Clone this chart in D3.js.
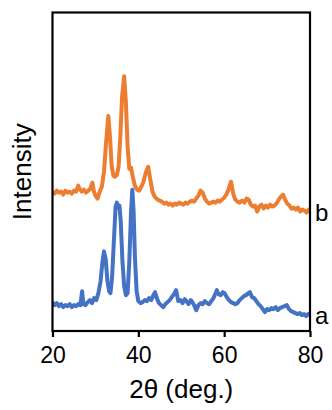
<!DOCTYPE html>
<html><head><meta charset="utf-8">
<script src="https://cdn.jsdelivr.net/npm/d3@7"></script>
<style>body{margin:0;background:#fff;} svg{display:block;}</style>
</head><body>
<svg id="c" width="332" height="410"></svg>
<script>
const xTicks = [20, 40, 60, 80];
const seriesLabels = ["b", "a"];
const seriesColors = ["#ED7D31", "#4472C4"];
const thetaB = [20.0,20.5,21.0,21.5,22.0,22.5,23.0,23.5,24.0,24.5,25.0,25.5,26.0,26.3,26.8,27.3,27.8,28.3,28.8,29.3,29.6,30.0,30.5,31.0,31.5,32.0,32.5,33.0,33.4,33.8,34.2,34.6,35.0,35.4,35.8,36.2,36.7,37.1,37.5,37.9,38.3,38.7,39.2,39.7,40.2,40.7,41.2,41.8,42.3,42.8,43.3,43.8,44.5,45.0,45.5,46.0,46.5,47.0,47.5,48.0,48.5,49.0,49.5,50.0,50.5,51.0,51.5,52.0,52.5,53.0,53.5,54.0,54.5,55.0,55.5,56.0,56.5,57.0,57.5,58.0,58.5,59.0,59.5,60.0,60.5,61.0,61.6,62.1,62.6,63.1,63.6,64.2,64.7,65.2,65.7,66.2,66.7,67.2,67.7,68.2,68.7,69.2,69.7,70.2,70.7,71.2,71.7,72.2,72.7,73.2,73.7,74.2,74.7,75.2,75.7,76.2,76.7,77.2,77.7,78.2,78.7,79.2,79.7,80.0];
const intensityB = [140,138,141,139,140,137,141,139,140,138,141,140,146,143,140,142,139,141,143,149,141,136,133,140,145,160,190,216,195,165,156,155,157,165,195,235,256,230,185,163,164,155,146,142,141,145,150,160,165,152,140,135,132,131,130,128,129,127,128,126,128,127,129,128,127,129,128,130,131,130,133,136,141,139,133,130,128,129,130,129,131,130,132,134,137,142,150,138,132,130,129,131,129,133,132,127,125,126,120,125,127,123,126,124,127,125,126,128,132,135,137,132,128,126,123,124,122,124,120,122,121,119,122,120];
const thetaA = [20.0,20.5,21.0,21.5,22.0,22.5,23.0,23.5,24.0,24.5,25.0,25.5,26.0,26.5,26.9,27.2,27.7,28.2,28.7,29.2,29.7,30.2,30.7,31.2,31.6,32.0,32.4,32.8,33.2,33.5,33.9,34.3,34.7,35.0,35.3,35.6,35.9,36.3,36.7,37.1,37.5,37.9,38.3,38.6,38.9,39.2,39.6,40.0,40.5,41.0,41.5,42.0,42.5,43.0,43.5,43.9,44.3,44.8,45.3,45.8,46.3,46.8,47.3,47.8,48.3,48.8,49.3,49.8,50.3,50.8,51.2,51.7,52.2,52.6,53.0,53.5,54.0,54.5,55.0,55.5,56.0,56.5,57.0,57.5,58.0,58.3,58.7,59.2,59.7,60.1,60.6,61.1,61.6,62.1,62.6,63.1,63.6,64.1,64.6,65.1,65.6,66.0,66.5,67.0,67.5,68.0,68.5,69.0,69.5,70.0,70.5,71.0,71.5,72.0,72.5,73.0,73.5,74.1,74.6,75.1,75.6,76.1,76.6,77.1,77.6,78.1,78.6,79.1,79.6,80.0];
const intensityA = [29,26,28,25,27,24,26,25,27,24,26,25,27,26,40,27,26,29,31,28,33,31,38,50,68,80,72,50,40,38,55,90,125,129,124,126,110,70,45,36,38,70,120,142,120,75,40,30,28,29,31,30,33,31,36,39,33,28,26,24,27,29,31,34,37,41,30,31,28,32,30,27,31,29,26,21,26,28,27,30,28,27,30,33,38,41,37,36,39,38,34,31,29,28,27,28,31,33,35,36,38,39,34,33,30,27,25,22,19,22,21,23,22,24,21,23,24,25,26,22,20,19,18,17,18,16,17,15,17,16];

const svg = d3.select("#c");
const m = {l: 52.5, r: 310, t: 12.5, b: 331};
const x = d3.scaleLinear().domain([20, 80]).range([m.l, m.r]);
const y = d3.scaleLinear().domain([0, 320]).range([m.b, m.t]);
const font = "'Liberation Sans', Arial, sans-serif";

svg.append("defs").append("clipPath").attr("id", "clip")
  .append("rect").attr("x", m.l).attr("y", m.t).attr("width", m.r - m.l).attr("height", m.b - m.t);

const line = d3.line().x(d => x(d[0])).y(d => y(d[1]));
const series = [
  d3.zip(thetaB, intensityB),
  d3.zip(thetaA, intensityA)
];
series.forEach((s, i) => {
  svg.append("path").datum(s).attr("d", line)
    .attr("fill", "none").attr("stroke", seriesColors[i])
    .attr("stroke-width", 4).attr("stroke-linejoin", "round")
    .attr("clip-path", "url(#clip)");
});

// frame
svg.append("rect").attr("x", m.l).attr("y", m.t).attr("width", m.r - m.l).attr("height", m.b - m.t)
  .attr("fill", "none").attr("stroke", "#000").attr("stroke-width", 2.2);

const xAxis = svg.append("g").attr("transform", `translate(0,${m.b})`)
  .call(d3.axisBottom(x).tickValues(xTicks).tickSize(6).tickPadding(10).tickFormat(d3.format("d")));
xAxis.select(".domain").remove();
xAxis.selectAll("line").attr("stroke", "#000").attr("stroke-width", 2.2);
xAxis.selectAll("text").attr("font-family", font).attr("font-size", 23).attr("fill", "#000");

svg.append("text").attr("x", (m.l + m.r) / 2).attr("y", 398).attr("text-anchor", "middle")
  .attr("font-family", font).attr("font-size", 26).attr("fill", "#000").text("2θ (deg.)");

svg.append("text").attr("transform", `translate(31,${(m.t + m.b) / 2}) rotate(-90)`)
  .attr("text-anchor", "middle").attr("font-family", font).attr("font-size", 26).attr("fill", "#000")
  .text("Intensity");

const labelVals = [intensityB[intensityB.length - 1], intensityA[intensityA.length - 1]];
seriesLabels.forEach((t, i) => {
  svg.append("text").attr("x", m.r + 5).attr("y", y(labelVals[i]) + 9)
    .attr("font-family", font).attr("font-size", 24).attr("fill", "#000").text(t);
});
</script>
</body></html>
